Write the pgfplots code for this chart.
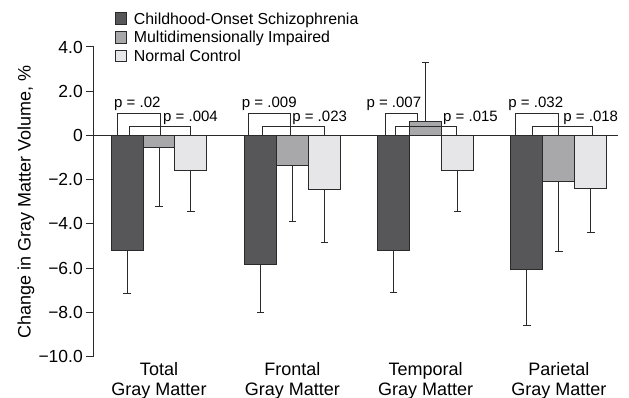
\documentclass[border=0pt]{standalone}
\usepackage{pgfplots}
\pgfplotsset{compat=1.18}
\usepackage{fontspec}
\setmainfont{Liberation Sans}
\definecolor{cdark}{HTML}{575759}
\definecolor{cmid}{HTML}{A8A8AA}
\definecolor{clight}{HTML}{E6E6E8}
\definecolor{cline}{HTML}{2A2A2A}
\begin{document}
\begin{tikzpicture}
\begin{axis}[
  at={(0,0)}, anchor=south west,
  scale only axis,
  width=524pt, height=309.5pt,
  xmin=-0.4876, xmax=3.443,
  ymin=-10, ymax=4,
  axis y line*=left,
  axis x line*=bottom,
  x axis line style={draw=none},
  y axis line style={cline, line width=1pt},
  xtick={0,1,2,3},
  xticklabels={Total\\Gray Matter, Frontal\\Gray Matter, Temporal\\Gray Matter, Parietal\\Gray Matter},
  xtick style={draw=none},
  xticklabel style={align=center, font=\fontsize{18}{20}\selectfont, inner sep=0pt, anchor=north, yshift=2.5pt},
  ytick={-10,-8,-6,-4,-2,0,2,4},
  yticklabels={−10.0,−8.0,−6.0,−4.0,−2.0,0,2.0,4.0},
  yticklabel style={font=\fontsize{17.5}{20}\selectfont, inner sep=0pt, anchor=east, xshift=-3pt},
  ytick style={cline, line width=1pt},
  tick align=outside,
  major tick length=8pt,
  ylabel={Change in Gray Matter Volume, \%},
  every axis y label/.style={at={(axis description cs:-0.1298,0.5)}, rotate=90, anchor=center, font=\fontsize{18}{20}\selectfont},
  legend cell align=left,
  legend style={at={(axis description cs:0.0401,1.1115)}, anchor=north west, draw=none, fill=none, inner sep=0pt, outer sep=0pt, row sep=3.5pt, column sep=7pt, nodes={inner sep=0pt, text height=11.5pt, text depth=3.5pt}, font=\fontsize{15.9}{18}\selectfont},
  legend image code/.code={\draw[#1, draw=cline, line width=0.9pt] (0pt,-4pt) rectangle (11pt,7.3pt);},
  clip=false,
]
% dark bars
\addplot[ybar, bar width=32pt, bar shift=0pt, fill=cdark, draw=cline, line width=1pt,
  error bars/.cd, y dir=minus, y explicit,
  error bar style={cline, line width=1pt},
  error mark options={rotate=90, cline, line width=1pt, mark size=3.8pt}]
  coordinates {(-0.24,-5.2) +- (0,1.95) (0.76,-5.85) +- (0,2.15) (1.76,-5.2) +- (0,1.9) (2.76,-6.05) +- (0,2.55)};
\addlegendentry{Childhood-Onset Schizophrenia}
% mid bars
\addplot[ybar, bar width=32pt, bar shift=0pt, fill=cmid, draw=cline, line width=1pt,
  error bars/.cd, y dir=minus, y explicit,
  error bar style={cline, line width=1pt},
  error mark options={rotate=90, cline, line width=1pt, mark size=3.8pt}]
  coordinates {(0,-0.55) +- (0,2.65) (1,-1.35) +- (0,2.55) (3,-2.1) +- (0,3.15)};
\addlegendentry{Multidimensionally Impaired}
% light bars
\addplot[ybar, bar width=32pt, bar shift=0pt, fill=clight, draw=cline, line width=1pt,
  error bars/.cd, y dir=minus, y explicit,
  error bar style={cline, line width=1pt},
  error mark options={rotate=90, cline, line width=1pt, mark size=3.8pt}]
  coordinates {(0.24,-1.58) +- (0,1.85) (1.24,-2.43) +- (0,2.42) (2.24,-1.58) +- (0,1.85) (3.24,-2.4) +- (0,2.0)};
\addlegendentry{Normal Control}
% mid bar temporal (positive)
\addplot[forget plot, ybar, bar width=32pt, bar shift=0pt, fill=cmid, draw=cline, line width=1pt,
  error bars/.cd, y dir=plus, y explicit,
  error bar style={cline, line width=1pt},
  error mark options={rotate=90, cline, line width=1pt, mark size=3.8pt}]
  coordinates {(2,0.65) +- (0,2.65)};
% zero line
\draw[cline, line width=1pt] (axis cs:-0.4876,0) -- (axis cs:3.443,0);
% brackets
\begin{scope}[cline, line width=1pt]
\draw (axis cs:-0.315,0) -- (axis cs:-0.315,1.0) -- (axis cs:0.0075,1.0) -- (axis cs:0.0075,0);
\draw (axis cs:-0.225,0) -- (axis cs:-0.225,0.4) -- (axis cs:0.24,0.4) -- (axis cs:0.24,0);
\draw (axis cs:0.67,0) -- (axis cs:0.67,1.0) -- (axis cs:0.987,1.0) -- (axis cs:0.987,0);
\draw (axis cs:0.776,0) -- (axis cs:0.776,0.4) -- (axis cs:1.239,0.4) -- (axis cs:1.239,0);
\draw (axis cs:1.70,0) -- (axis cs:1.70,1.0) -- (axis cs:1.938,1.0) -- (axis cs:1.938,0.65);
\draw (axis cs:1.773,0) -- (axis cs:1.773,0.4) -- (axis cs:2.233,0.4) -- (axis cs:2.233,0);
\draw (axis cs:2.677,0) -- (axis cs:2.677,1.0) -- (axis cs:2.995,1.0) -- (axis cs:2.995,0);
\draw (axis cs:2.80,0) -- (axis cs:2.80,0.4) -- (axis cs:3.255,0.4) -- (axis cs:3.255,0);
\end{scope}
\begin{scope}[every node/.style={inner sep=0pt, anchor=base west, font=\fontsize{15}{18}\selectfont}]
\node at (axis cs:-0.3376,1.27) {p = .02};
\node at (axis cs:0.03,0.65) {p = .004};
\node at (axis cs:0.621,1.27) {p = .009};
\node at (axis cs:0.9985,0.65) {p = .023};
\node at (axis cs:1.555,1.27) {p = .007};
\node at (axis cs:2.13,0.65) {p = .015};
\node at (axis cs:2.62,1.27) {p = .032};
\node at (axis cs:3.032,0.65) {p = .018};
\end{scope}
\end{axis}
\pgfresetboundingbox
\path (-94pt,-41.5pt) rectangle (535pt,356.5pt);
\end{tikzpicture}
\end{document}
